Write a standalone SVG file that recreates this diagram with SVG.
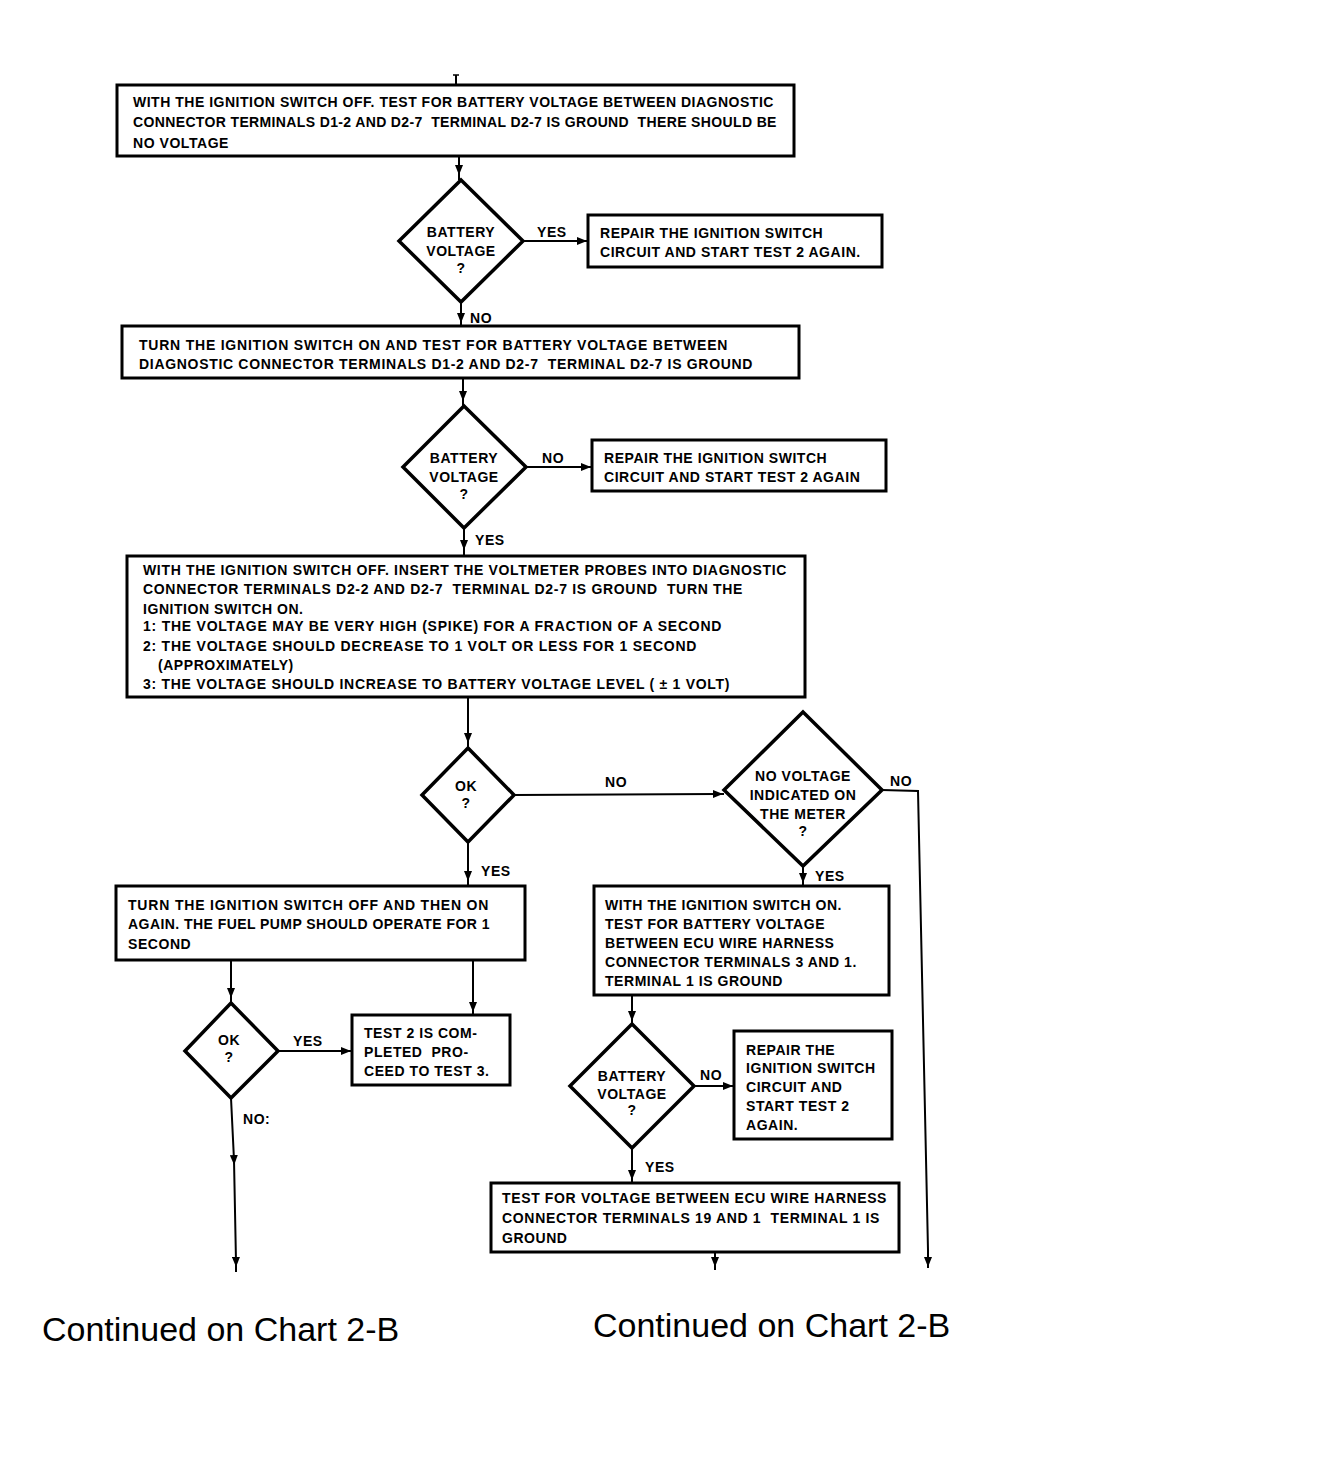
<svg xmlns="http://www.w3.org/2000/svg" width="1338" height="1477" viewBox="0 0 1338 1477" xml:space="preserve">
<style>
.box{fill:#fff;stroke:#000;stroke-width:3}
.dia{fill:#fff;stroke:#000;stroke-width:3.5}
.t{font-family:"Liberation Sans",Arial,Helvetica,sans-serif;font-weight:bold;font-size:14px;letter-spacing:0.55px;fill:#000;white-space:pre}
.m{text-anchor:middle}
.c{stroke:#000;stroke-width:2;fill:none;marker-mid:url(#ah)}
.big{font-family:"Liberation Sans",Arial,Helvetica,sans-serif;font-size:34px;fill:#000}
</style>
<defs>
<marker id="ah" markerWidth="10" markerHeight="8" refX="5" refY="4" orient="auto" markerUnits="userSpaceOnUse">
<path d="M0,0 L10,4 L0,8 Z" fill="#000"/>
</marker>
</defs>
<rect width="1338" height="1477" fill="#fff"/>
<g id="connectors">
<line x1="456" y1="75" x2="456" y2="85" stroke="#000" stroke-width="2"/>
<line x1="453" y1="75" x2="459" y2="75" stroke="#000" stroke-width="1.5"/>
<polyline class="c" points="459,156 459,170 459,180"/>
<polyline class="c" points="523,241 582,241 588,241"/>
<polyline class="c" points="461,302 461,318 461,326"/>
<polyline class="c" points="463,378 463,396 463,406"/>
<polyline class="c" points="526,467 586,467 592,467"/>
<polyline class="c" points="464,528 464,545 464,556"/>
<polyline class="c" points="468,697 468,738 468,748"/>
<polyline class="c" points="514,795 718,794 724,794"/>
<polyline class="c" points="468,842 468,876 468,886"/>
<polyline class="c" points="803,866 803,878 803,886"/>
<polyline points="882,790 918,791 928,1250 928,1268" class="c" style="marker-mid:none"/>
<polyline class="c" points="928,1250 928,1262 928,1268"/>
<polyline class="c" points="632,995 632,1016 632,1024"/>
<polyline class="c" points="694,1086 728,1086 734,1086"/>
<polyline class="c" points="632,1148 632,1175 632,1183"/>
<polyline class="c" points="715,1252 715,1262 715,1270"/>
<polyline class="c" points="231,960 231,993 231,1003"/>
<polyline class="c" points="473,960 473,1007 473,1015"/>
<polyline class="c" points="278,1051 346,1051 352,1051"/>
<polyline class="c" points="231,1098 234,1160 236,1262 236,1272"/>
</g>
<g id="box1">
<rect class="box" x="117" y="85" width="677" height="71"/>
<text class="t" x="133" y="107" textLength="641">WITH THE IGNITION SWITCH OFF. TEST FOR BATTERY VOLTAGE BETWEEN DIAGNOSTIC</text>
<text class="t" x="133" y="127" textLength="644">CONNECTOR TERMINALS D1-2 AND D2-7  TERMINAL D2-7 IS GROUND  THERE SHOULD BE</text>
<text class="t" x="133" y="148">NO VOLTAGE</text>
</g>
<g id="dia1">
<polygon class="dia" points="461,180 523,241 461,302 399,241"/>
<text class="t m" x="461" y="237">BATTERY</text>
<text class="t m" x="461" y="256">VOLTAGE</text>
<text class="t m" x="461" y="273">?</text>
<text class="t" x="537" y="237">YES</text>
<text class="t" x="470" y="323">NO</text>
</g>
<g id="repair1">
<rect class="box" x="588" y="215" width="294" height="52"/>
<text class="t" x="600" y="238">REPAIR THE IGNITION SWITCH</text>
<text class="t" x="600" y="257">CIRCUIT AND START TEST 2 AGAIN.</text>
</g>
<g id="box2">
<rect class="box" x="122" y="326" width="677" height="52"/>
<text class="t" x="139" y="350" textLength="589">TURN THE IGNITION SWITCH ON AND TEST FOR BATTERY VOLTAGE BETWEEN</text>
<text class="t" x="139" y="369" textLength="614">DIAGNOSTIC CONNECTOR TERMINALS D1-2 AND D2-7  TERMINAL D2-7 IS GROUND</text>
</g>
<g id="dia2">
<polygon class="dia" points="464,406 526,467 464,528 403,467"/>
<text class="t m" x="464" y="463">BATTERY</text>
<text class="t m" x="464" y="482">VOLTAGE</text>
<text class="t m" x="464" y="499">?</text>
<text class="t" x="542" y="463">NO</text>
<text class="t" x="475" y="545">YES</text>
</g>
<g id="repair2">
<rect class="box" x="592" y="440" width="294" height="51"/>
<text class="t" x="604" y="463">REPAIR THE IGNITION SWITCH</text>
<text class="t" x="604" y="482">CIRCUIT AND START TEST 2 AGAIN</text>
</g>
<g id="box3">
<rect class="box" x="127" y="556" width="678" height="141"/>
<text class="t" x="143" y="575" textLength="644">WITH THE IGNITION SWITCH OFF. INSERT THE VOLTMETER PROBES INTO DIAGNOSTIC</text>
<text class="t" x="143" y="594" textLength="600">CONNECTOR TERMINALS D2-2 AND D2-7  TERMINAL D2-7 IS GROUND  TURN THE</text>
<text class="t" x="143" y="614">IGNITION SWITCH ON.</text>
<text class="t" x="143" y="631" textLength="579">1: THE VOLTAGE MAY BE VERY HIGH (SPIKE) FOR A FRACTION OF A SECOND</text>
<text class="t" x="143" y="651" textLength="554">2: THE VOLTAGE SHOULD DECREASE TO 1 VOLT OR LESS FOR 1 SECOND</text>
<text class="t" x="158" y="670">(APPROXIMATELY)</text>
<text class="t" x="143" y="689" textLength="587">3: THE VOLTAGE SHOULD INCREASE TO BATTERY VOLTAGE LEVEL ( ± 1 VOLT)</text>
</g>
<g id="dia-ok1">
<polygon class="dia" points="468,748 514,795 468,842 422,795"/>
<text class="t m" x="466" y="791">OK</text>
<text class="t m" x="466" y="808">?</text>
<text class="t" x="605" y="787">NO</text>
<text class="t" x="481" y="876">YES</text>
</g>
<g id="dia-novolt">
<polygon class="dia" points="803,712 882,790 803,866 724,790"/>
<text class="t m" x="803" y="781">NO VOLTAGE</text>
<text class="t m" x="803" y="800">INDICATED ON</text>
<text class="t m" x="803" y="819">THE METER</text>
<text class="t m" x="803" y="836">?</text>
<text class="t" x="890" y="786">NO</text>
<text class="t" x="815" y="881">YES</text>
</g>
<g id="box4">
<rect class="box" x="594" y="886" width="295" height="109"/>
<text class="t" x="605" y="910">WITH THE IGNITION SWITCH ON.</text>
<text class="t" x="605" y="929">TEST FOR BATTERY VOLTAGE</text>
<text class="t" x="605" y="948">BETWEEN ECU WIRE HARNESS</text>
<text class="t" x="605" y="967">CONNECTOR TERMINALS 3 AND 1.</text>
<text class="t" x="605" y="986">TERMINAL 1 IS GROUND</text>
</g>
<g id="dia3">
<polygon class="dia" points="632,1024 694,1086 632,1148 570,1086"/>
<text class="t m" x="632" y="1081">BATTERY</text>
<text class="t m" x="632" y="1099">VOLTAGE</text>
<text class="t m" x="632" y="1115">?</text>
<text class="t" x="700" y="1080">NO</text>
<text class="t" x="645" y="1172">YES</text>
</g>
<g id="repair3">
<rect class="box" x="734" y="1031" width="158" height="108"/>
<text class="t" x="746" y="1055">REPAIR THE</text>
<text class="t" x="746" y="1073">IGNITION SWITCH</text>
<text class="t" x="746" y="1092">CIRCUIT AND</text>
<text class="t" x="746" y="1111">START TEST 2</text>
<text class="t" x="746" y="1130">AGAIN.</text>
</g>
<g id="box5">
<rect class="box" x="491" y="1183" width="408" height="69"/>
<text class="t" x="502" y="1203" textLength="385">TEST FOR VOLTAGE BETWEEN ECU WIRE HARNESS</text>
<text class="t" x="502" y="1223" textLength="378">CONNECTOR TERMINALS 19 AND 1  TERMINAL 1 IS</text>
<text class="t" x="502" y="1243">GROUND</text>
</g>
<g id="box6">
<rect class="box" x="116" y="886" width="409" height="74"/>
<text class="t" x="128" y="910" textLength="361">TURN THE IGNITION SWITCH OFF AND THEN ON</text>
<text class="t" x="128" y="929" textLength="362">AGAIN. THE FUEL PUMP SHOULD OPERATE FOR 1</text>
<text class="t" x="128" y="949">SECOND</text>
</g>
<g id="dia-ok2">
<polygon class="dia" points="231,1003 278,1051 231,1098 185,1051"/>
<text class="t m" x="229" y="1045">OK</text>
<text class="t m" x="229" y="1062">?</text>
<text class="t" x="293" y="1046">YES</text>
<text class="t" x="243" y="1124">NO:</text>
</g>
<g id="box7">
<rect class="box" x="352" y="1015" width="158" height="70"/>
<text class="t" x="364" y="1038">TEST 2 IS COM-</text>
<text class="t" x="364" y="1057">PLETED  PRO-</text>
<text class="t" x="364" y="1076">CEED TO TEST 3.</text>
</g>
<g id="continued">
<text class="big" x="42" y="1341">Continued on Chart 2-B</text>
<text class="big" x="593" y="1337">Continued on Chart 2-B</text>
</g>
</svg>
